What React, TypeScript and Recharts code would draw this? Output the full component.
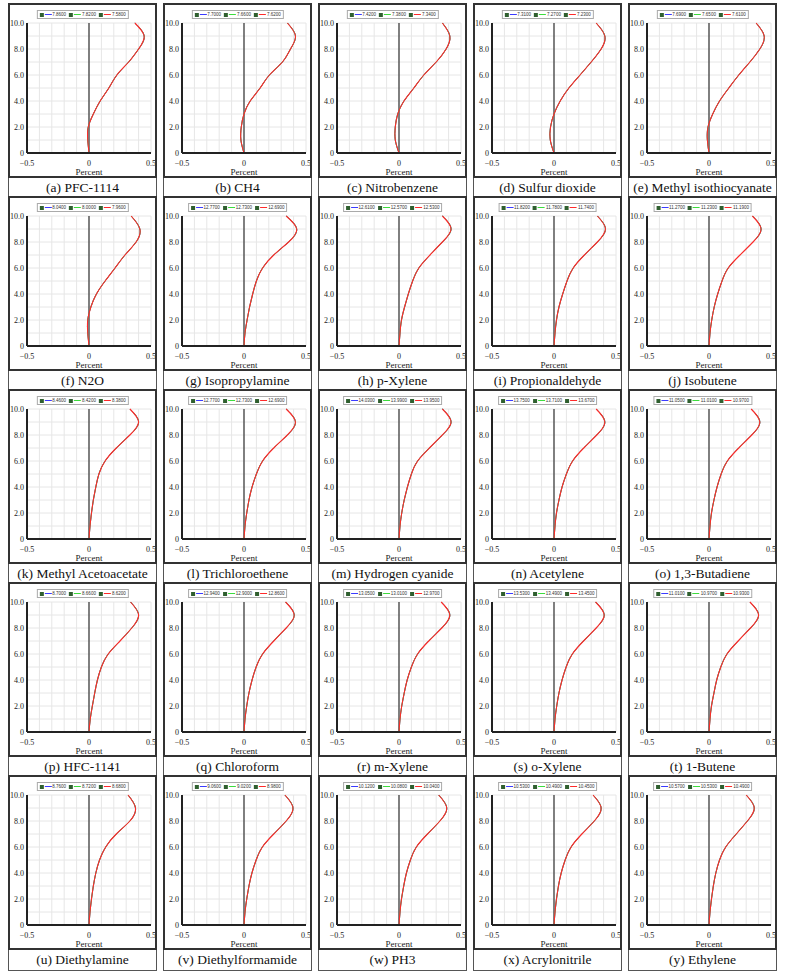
import React from "react";
import {
  LineChart,
  Line,
  XAxis,
  YAxis,
  CartesianGrid,
  ReferenceLine,
} from "recharts";

// heights (y axis) shared by every panel
const HEIGHTS = [0, 1, 2, 3, 4, 5, 6, 7, 8, 9, 10];
const X_TICKS = [-0.5, -0.4, -0.3, -0.2, -0.1, 0, 0.1, 0.2, 0.3, 0.4, 0.5];
const X_LABELS: Record<string, string> = { "-0.5": "\u22120.5", "0": "0", "0.5": "0.5" };
const Y_LABELS: Record<string, string> = { "0": "0", "2": "2.0", "4": "4.0", "6": "6.0", "8": "8.0", "10": "10.0" };

const NAMES = [
  "(a) PFC-1114", "(b) CH4", "(c) Nitrobenzene", "(d) Sulfur dioxide", "(e) Methyl isothiocyanate",
  "(f) N2O", "(g) Isopropylamine", "(h) p-Xylene", "(i) Propionaldehyde", "(j) Isobutene",
  "(k) Methyl Acetoacetate", "(l) Trichloroethene", "(m) Hydrogen cyanide", "(n) Acetylene", "(o) 1,3-Butadiene",
  "(p) HFC-1141", "(q) Chloroform", "(r) m-Xylene", "(s) o-Xylene", "(t) 1-Butene",
  "(u) Diethylamine", "(v) Diethylformamide", "(w) PH3", "(x) Acrylonitrile", "(y) Ethylene",
];

// legend labels: blue, green, red
const LEGENDS = [
  ["7.8600", "7.8200", "7.5800"], ["7.7000", "7.6600", "7.6200"], ["7.4200", "7.3800", "7.3400"], ["7.3100", "7.2700", "7.2300"], ["7.6900", "7.6500", "7.6100"],
  ["8.0400", "8.0000", "7.9600"], ["12.7700", "12.7300", "12.6900"], ["12.6100", "12.5700", "12.5300"], ["11.8200", "11.7800", "11.7400"], ["11.2700", "11.2300", "11.1900"],
  ["8.4600", "8.4200", "8.3800"], ["12.7700", "12.7300", "12.6900"], ["14.0300", "13.9900", "13.9500"], ["13.7500", "13.7100", "13.6700"], ["11.0500", "11.0100", "10.9700"],
  ["8.7000", "8.6600", "8.6200"], ["12.9400", "12.9000", "12.8600"], ["13.0500", "13.0100", "12.9700"], ["13.5300", "13.4900", "13.4500"], ["11.0100", "10.9700", "10.9300"],
  ["8.7600", "8.7200", "8.6800"], ["9.0600", "9.0200", "8.9800"], ["10.1200", "10.0800", "10.0400"], ["10.5300", "10.4900", "10.4500"], ["10.5700", "10.5300", "10.4900"],
];

// percent profiles, one value per height
const PFC_1114 = [0, -0.01, -0.006, 0.035, 0.09, 0.16, 0.225, 0.32, 0.4, 0.445, 0.37];
const CH4 = [0, -0.025, -0.022, 0.0, 0.05, 0.13, 0.205, 0.31, 0.375, 0.415, 0.35];
const NITROBENZENE = [0, -0.03, -0.03, -0.01, 0.04, 0.12, 0.2, 0.3, 0.38, 0.41, 0.35];
const SULFUR_DIOXIDE = [0, -0.03, -0.028, 0.0, 0.05, 0.12, 0.21, 0.3, 0.38, 0.41, 0.34];
const METHYL_ISOTHIOCYANATE = [0, -0.013, -0.008, 0.03, 0.085, 0.16, 0.24, 0.33, 0.41, 0.445, 0.38];
const N2O = [0, -0.01, -0.01, 0.015, 0.06, 0.13, 0.21, 0.29, 0.38, 0.41, 0.34];
const ISOPROPYLAMINE = [0, 0.008, 0.025, 0.045, 0.07, 0.1, 0.15, 0.24, 0.36, 0.425, 0.34];
const P_XYLENE = [0, 0.008, 0.02, 0.045, 0.075, 0.11, 0.16, 0.25, 0.35, 0.42, 0.35];
const PROPIONALDEHYDE = [0, 0.008, 0.02, 0.04, 0.07, 0.105, 0.155, 0.245, 0.35, 0.415, 0.35];
const ISOBUTENE = [0, 0.008, 0.022, 0.042, 0.07, 0.105, 0.155, 0.25, 0.355, 0.42, 0.35];
const METHYL_ACETOACETATE = [0, 0.008, 0.02, 0.035, 0.055, 0.08, 0.13, 0.22, 0.33, 0.4, 0.33];
const TRICHLOROETHENE = [0, 0.008, 0.022, 0.04, 0.065, 0.1, 0.15, 0.24, 0.35, 0.415, 0.34];
const HYDROGEN_CYANIDE = [0, 0.008, 0.022, 0.042, 0.068, 0.1, 0.15, 0.245, 0.35, 0.42, 0.35];
const ACETYLENE = [0, 0.008, 0.02, 0.04, 0.065, 0.1, 0.15, 0.24, 0.345, 0.41, 0.34];
const BUTADIENE = [0, 0.008, 0.02, 0.04, 0.065, 0.098, 0.148, 0.24, 0.345, 0.41, 0.34];
const HFC_1141 = [0, 0.01, 0.027, 0.046, 0.068, 0.1, 0.155, 0.25, 0.345, 0.4, 0.335];
const CHLOROFORM = [0, 0.008, 0.022, 0.04, 0.065, 0.098, 0.15, 0.24, 0.34, 0.405, 0.335];
const M_XYLENE = [0, 0.008, 0.022, 0.042, 0.066, 0.1, 0.15, 0.24, 0.345, 0.41, 0.34];
const O_XYLENE = [0, 0.008, 0.022, 0.04, 0.065, 0.098, 0.148, 0.238, 0.34, 0.405, 0.335];
const BUTENE_1 = [0, 0.008, 0.02, 0.04, 0.062, 0.095, 0.145, 0.235, 0.335, 0.4, 0.33];
const DIETHYLAMINE = [0, 0.008, 0.02, 0.035, 0.055, 0.085, 0.135, 0.22, 0.33, 0.375, 0.315];
const DIETHYLFORMAMIDE = [0, 0.008, 0.022, 0.04, 0.064, 0.098, 0.148, 0.24, 0.34, 0.395, 0.33];
const PH3 = [0, 0.008, 0.02, 0.038, 0.06, 0.092, 0.14, 0.23, 0.33, 0.385, 0.32];
const ACRYLONITRILE = [0, 0.008, 0.02, 0.036, 0.058, 0.09, 0.138, 0.225, 0.325, 0.38, 0.315];
const ETHYLENE = [0, 0.008, 0.02, 0.035, 0.055, 0.085, 0.135, 0.22, 0.31, 0.365, 0.3];

const PROFILES = [
  PFC_1114, CH4, NITROBENZENE, SULFUR_DIOXIDE, METHYL_ISOTHIOCYANATE,
  N2O, ISOPROPYLAMINE, P_XYLENE, PROPIONALDEHYDE, ISOBUTENE,
  METHYL_ACETOACETATE, TRICHLOROETHENE, HYDROGEN_CYANIDE, ACETYLENE, BUTADIENE,
  HFC_1141, CHLOROFORM, M_XYLENE, O_XYLENE, BUTENE_1,
  DIETHYLAMINE, DIETHYLFORMAMIDE, PH3, ACRYLONITRILE, ETHYLENE,
];

const SERIES_COLORS = ["#3b3bff", "#3ddc3d", "#ff2a2a"];
const FONT = '"Liberation Serif", "Times New Roman", serif';

const COL_W = 155;
const ROW_H = 193;
const FRAME_W = 149;
const FRAME_H = 175;
const CAP_H = 21;

function XTick(props: any) {
  const { x, y, payload } = props;
  const lab = X_LABELS[String(payload.value)];
  if (!lab) return null;
  return (
    <text x={x} y={y + 13} textAnchor="middle" fontSize={8} fill="#222" fontFamily={FONT}>
      {lab}
    </text>
  );
}

function YTick(props: any) {
  const { x, y, payload } = props;
  const lab = Y_LABELS[String(payload.value)];
  if (!lab) return null;
  return (
    <text x={x - 3} y={y + 2.8} textAnchor="end" fontSize={8} fill="#222" fontFamily={FONT}>
      {lab}
    </text>
  );
}

function MiniLegend({ labels }: { labels: string[] }) {
  return (
    <div
      style={{
        position: "absolute",
        top: 5,
        left: "50%",
        transform: "translateX(-50%)",
        display: "flex",
        alignItems: "center",
        gap: 3,
        padding: "0 2px",
        height: 7,
        background: "#fff",
        border: "0.5px solid #aaa",
        fontFamily: "Arial, sans-serif",
        fontSize: 4.5,
        color: "#333",
        whiteSpace: "nowrap",
        zIndex: 2,
      }}
    >
      {labels.map((l, i) => (
        <div key={i} style={{ display: "flex", alignItems: "center", gap: 1 }}>
          <span style={{ width: 4, height: 4, background: "#2f5f2f", display: "inline-block" }} />
          <span style={{ width: 7, height: 1, background: SERIES_COLORS[i], display: "inline-block" }} />
          <span>{l}</span>
        </div>
      ))}
    </div>
  );
}

function Panel({ idx }: { idx: number }) {
  const col = idx % 5;
  const row = Math.floor(idx / 5);
  const left = 8 + col * COL_W;
  const top = 3 + row * ROW_H;
  const prof = PROFILES[idx];
  const data = HEIGHTS.map((h, i) => ({ h, blue: prof[i], green: prof[i], red: prof[i] }));

  return (
    <>
      <div
        style={{
          position: "absolute",
          left,
          top,
          width: FRAME_W,
          height: FRAME_H,
          border: "2px solid #333",
          boxSizing: "border-box",
          background: "#fff",
        }}
      >
        <MiniLegend labels={LEGENDS[idx]} />
        <LineChart
          width={FRAME_W - 4}
          height={FRAME_H - 4}
          layout="vertical"
          data={data}
          margin={{ top: 18, right: 4, bottom: 0, left: 0 }}
        >
          <CartesianGrid stroke="#e6e6e6" strokeWidth={1} />
          <XAxis
            type="number"
            dataKey="red"
            domain={[-0.5, 0.5]}
            ticks={X_TICKS}
            interval={0}
            tickSize={0}
            tickMargin={0}
            tick={<XTick />}
            axisLine={{ stroke: "#222", strokeWidth: 2 }}
            tickLine={false}
            height={23}
            allowDataOverflow
            label={{ value: "Percent", position: "insideBottom", offset: 1, fontSize: 9, fill: "#222", fontFamily: FONT }}
          />
          <YAxis
            type="number"
            dataKey="h"
            domain={[0, 10]}
            reversed
            ticks={HEIGHTS}
            interval={0}
            tickSize={0}
            tickMargin={0}
            tick={<YTick />}
            axisLine={{ stroke: "#222", strokeWidth: 2 }}
            tickLine={false}
            width={17}
          />
          <ReferenceLine x={0} stroke="#333" strokeWidth={1.2} />
          <Line dataKey="blue" type="natural" stroke={SERIES_COLORS[0]} strokeWidth={1} dot={false} isAnimationActive={false} />
          <Line dataKey="green" type="natural" stroke={SERIES_COLORS[1]} strokeWidth={1} dot={false} isAnimationActive={false} />
          <Line dataKey="red" type="natural" stroke={SERIES_COLORS[2]} strokeWidth={1.1} dot={false} isAnimationActive={false} />
        </LineChart>
      </div>
      <div
        style={{
          position: "absolute",
          left,
          top: top + FRAME_H,
          width: FRAME_W,
          height: CAP_H,
          borderLeft: "1px solid #555",
          borderRight: "1px solid #555",
          borderBottom: "1px solid #555",
          boxSizing: "border-box",
          display: "flex",
          alignItems: "center",
          justifyContent: "center",
          fontSize: 13.5,
          color: "#111",
          whiteSpace: "nowrap",
        }}
      >
        {NAMES[idx]}
      </div>
    </>
  );
}

export default function App() {
  return (
    <div style={{ position: "relative", width: 791, height: 977, background: "#fff", fontFamily: FONT }}>
      <style>{`body{margin:0}`}</style>
      {NAMES.map((_, i) => (
        <Panel key={i} idx={i} />
      ))}
    </div>
  );
}
